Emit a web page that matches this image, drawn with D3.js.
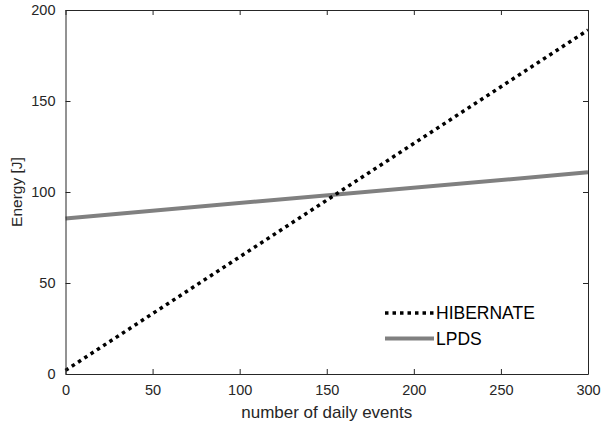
<!DOCTYPE html>
<html>
<head>
<meta charset="utf-8">
<script src="https://cdn.jsdelivr.net/npm/d3@7"></script>
<style>
  body { margin: 0; background: #fff; }
  text { font-family: "Liberation Sans", Arial, sans-serif; }
</style>
</head>
<body>
<div id="chart"></div>
<script>
// data
var events = [0, 300];
var hibernate = [2, 189];
var lpds = [85.5, 110.8];
var xTicks = [0, 50, 100, 150, 200, 250, 300];
var yTicks = [0, 50, 100, 150, 200];
var seriesNames = ["HIBERNATE", "LPDS"];

var svgWidth = 602;
var svgHeight = 430;
var margin = { top: 10, right: 14, bottom: 56, left: 65.5 };
var width = svgWidth - margin.left - margin.right;
var height = svgHeight - margin.top - margin.bottom;

var svg = d3.select("#chart").append("svg")
    .attr("width", svgWidth)
    .attr("height", svgHeight);

var chartGroup = svg.append("g")
    .attr("transform", `translate(${margin.left}, ${margin.top})`);

var xScale = d3.scaleLinear().domain([0, 300]).range([0, width]);
var yScale = d3.scaleLinear().domain([0, 200]).range([height, 0]);

var axisColor = "#262626";

// lines
var line = d3.line()
    .x((d, i) => xScale(events[i]))
    .y(d => yScale(d));

chartGroup.append("path")
    .datum(lpds)
    .attr("d", line)
    .attr("fill", "none")
    .attr("stroke", "#808080")
    .attr("stroke-width", 4);

chartGroup.append("path")
    .datum(hibernate)
    .attr("d", line)
    .attr("fill", "none")
    .attr("stroke", "#000")
    .attr("stroke-width", 3.5)
    .attr("stroke-dasharray", "3.5,4");

// axes
var bottomAxis = d3.axisBottom(xScale).tickValues(xTicks).tickSizeInner(-5).tickSizeOuter(0).tickPadding(11);
var leftAxis = d3.axisLeft(yScale).tickValues(yTicks).tickSizeInner(-5).tickSizeOuter(0).tickPadding(10);
var topAxis = d3.axisTop(xScale).tickValues(xTicks).tickSizeInner(-5).tickSizeOuter(0).tickFormat("");
var rightAxis = d3.axisRight(yScale).tickValues(yTicks).tickSizeInner(-5).tickSizeOuter(0).tickFormat("");

var xAxis = chartGroup.append("g")
    .attr("transform", `translate(0,${height})`)
    .call(bottomAxis);
var yAxis = chartGroup.append("g").call(leftAxis);
var tAxis = chartGroup.append("g").call(topAxis);
var rAxis = chartGroup.append("g")
    .attr("transform", `translate(${width},0)`)
    .call(rightAxis);

[xAxis, yAxis, tAxis, rAxis].forEach(function(a) {
    a.select(".domain").attr("stroke", axisColor).attr("stroke-width", 1);
    a.selectAll(".tick line").attr("stroke", axisColor);
    a.selectAll("text")
        .attr("fill", axisColor)
        .style("font-size", "14.5px")
        .style("font-family", "'Liberation Sans', Arial, sans-serif");
});

// axis labels
chartGroup.append("text")
    .attr("x", width / 2)
    .attr("y", height + 44)
    .attr("text-anchor", "middle")
    .attr("fill", axisColor)
    .style("font-size", "17px")
    .text("number of daily events");

chartGroup.append("text")
    .attr("transform", `translate(${-44}, ${height / 2}) rotate(-90)`)
    .attr("text-anchor", "middle")
    .attr("fill", axisColor)
    .style("font-size", "15.5px")
    .text("Energy [J]");

// legend
var legend = chartGroup.append("g")
    .attr("transform", `translate(${384 - margin.left}, ${313 - margin.top})`);

var legendStyles = [
    { stroke: "#000", width: 3.5, dash: "3.5,4" },
    { stroke: "#808080", width: 4, dash: null }
];

seriesNames.forEach(function(name, i) {
    var g = legend.append("g").attr("transform", `translate(0, ${i * 25.5})`);
    g.append("line")
        .attr("x1", 1).attr("x2", 50)
        .attr("y1", 0).attr("y2", 0)
        .attr("stroke", legendStyles[i].stroke)
        .attr("stroke-width", legendStyles[i].width)
        .attr("stroke-dasharray", legendStyles[i].dash);
    g.append("text")
        .attr("x", 52)
        .attr("y", 6)
        .attr("fill", "#000")
        .style("font-size", "17.5px")
        .text(name);
});
</script>
</body>
</html>
